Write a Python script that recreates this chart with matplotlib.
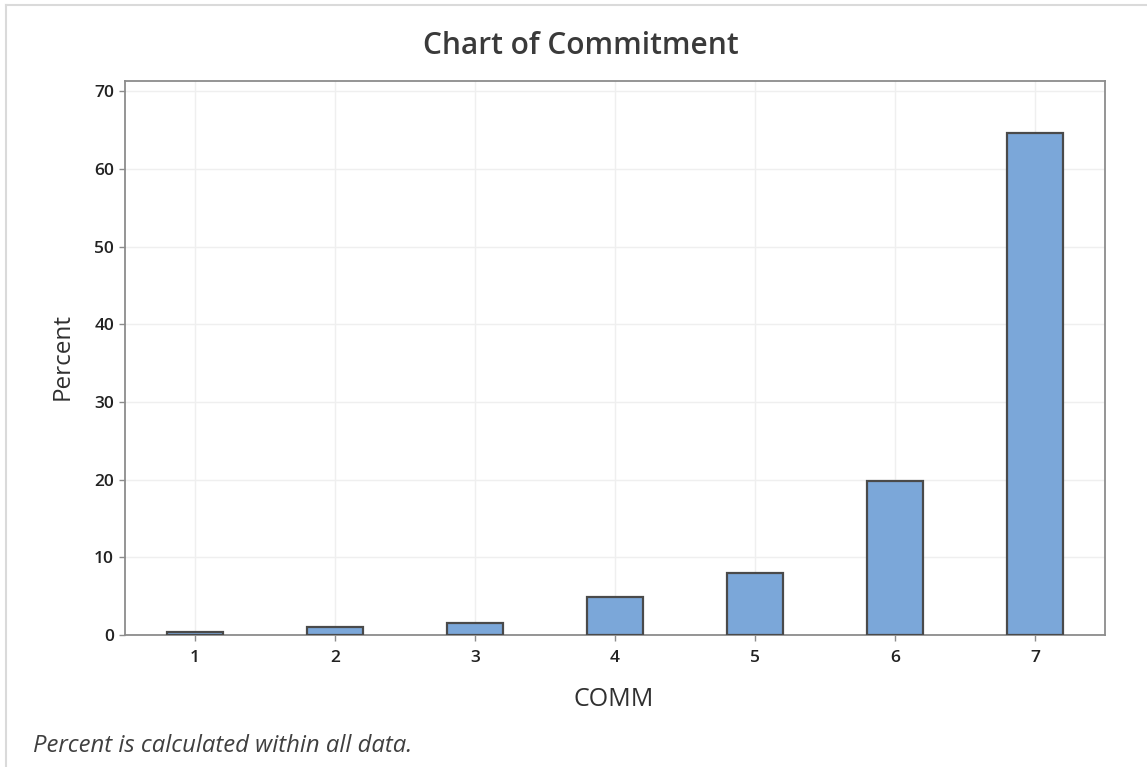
import matplotlib
matplotlib.use("Agg")
import matplotlib.pyplot as plt
from matplotlib.lines import Line2D

# Data
categories = [1, 2, 3, 4, 5, 6, 7]
percent = [0.4, 1.0, 1.5, 4.9, 8.0, 19.8, 64.6]
y_ticks = [0, 10, 20, 30, 40, 50, 60, 70]

BAR_FILL = "#7BA7D9"
BAR_EDGE = "#4A4A4A"
FRAME = "#8C8C8C"
GRID = "#EFEFEF"
TEXT = "#303030"

plt.rcParams["font.family"] = ["Open Sans", "DejaVu Sans"]

W, H = 1147, 767
fig = plt.figure(figsize=(W / 100, H / 100), dpi=100)
ax = fig.add_axes([125 / W, 1 - 635 / H, (1105 - 125) / W, (635 - 81) / H])

ax.bar(categories, percent, width=0.4, color=BAR_FILL, edgecolor=BAR_EDGE,
       linewidth=1.6, zorder=3)

ax.set_xlim(0.5, 7.5)
ax.set_ylim(0, 71.3)
ax.set_xticks(categories)
ax.set_yticks(y_ticks)
ax.tick_params(axis="both", colors=FRAME, labelcolor="#222222", labelsize=12.5,
               length=4, width=1)
ax.tick_params(axis="x", pad=7)
ax.tick_params(axis="y", pad=4)
for lbl in ax.get_xticklabels() + ax.get_yticklabels():
    lbl.set_fontweight("semibold")
ax.grid(True, color=GRID, linewidth=1, zorder=0)
for s in ax.spines.values():
    s.set_color(FRAME)
    s.set_linewidth(1.3)

fig.text(614 / W, 1 - 700 / H, "COMM", fontsize=18, color=TEXT,
         ha="center", va="center")
fig.text(63 / W, 1 - 356 / H, "Percent", fontsize=17.5, color=TEXT,
         ha="center", va="center", rotation=90)

fig.text(581 / W, 1 - 46 / H, "Chart of Commitment", fontsize=21.5,
         fontweight="semibold", color="#3a3a3a", ha="center", va="center")
fig.text(33 / W, 1 - 746 / H, "Percent is calculated within all data.",
         fontsize=17.2, style="italic", color="#404040", ha="left", va="center")

# Light frame along top and left edges of the screenshot
fig.add_artist(Line2D([6 / W, 6 / W], [0, 1 - 5 / H], transform=fig.transFigure,
                      color="#DADADA", linewidth=1.5))
fig.add_artist(Line2D([6 / W, 1], [1 - 5 / H, 1 - 5 / H], transform=fig.transFigure,
                      color="#DADADA", linewidth=1.5))

fig.savefig("out.png", dpi=100)
